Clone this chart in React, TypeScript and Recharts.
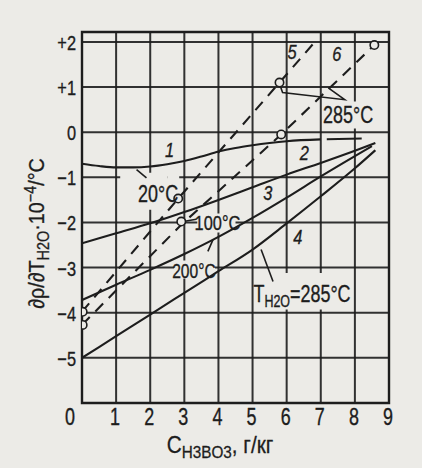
import React from "react";
import {
  ComposedChart,
  Line,
  Scatter,
  XAxis,
  YAxis,
  CartesianGrid,
  ReferenceArea,
  ReferenceDot,
} from "recharts";

const FONT = "'Liberation Sans', Arial, sans-serif";
const INK = "#1d1d1d";
const PAPER = "#ecebe7";
const NARROW = 0.78;

// axes
const xTicks = [0, 1, 2, 3, 4, 5, 6, 7, 8, 9];
const yTicks = [-5, -4, -3, -2, -1, 0, 1, 2];
const yTickLabels = ["−5", "−4", "−3", "−2", "−1", "0", "+1", "+2"];
const xDomain = [0, 9];
const yDomain = [-6, 2.22];

// solid curves: [C (g/kg), dρ/dT ·10^-4]
const curve1 = [[0, -0.7], [0.5, -0.75], [1, -0.78], [1.5, -0.78], [2, -0.76], [2.5, -0.71], [3, -0.64], [3.5, -0.54], [4, -0.43], [4.5, -0.35], [5, -0.29], [5.5, -0.24], [6, -0.2], [7.0, -0.16]];
const curve1Ext = [[7.0, -0.16], [8.2, -0.14]];
const curve2 = [[0, -2.46], [1, -2.24], [2, -2.02], [3, -1.77], [4, -1.5], [5, -1.22], [6, -0.94], [7, -0.68], [8, -0.41], [8.6, -0.24]];
const curve3 = [[0, -3.72], [1, -3.38], [2, -3.05], [3, -2.7], [4, -2.32], [5, -1.9], [6, -1.45], [7, -0.98], [8, -0.53], [8.5, -0.31]];
const curve4 = [[0, -5.0], [1, -4.52], [2, -4.04], [3, -3.56], [4, -3.08], [5, -2.6], [6, -2.02], [7, -1.42], [8, -0.8], [8.6, -0.4]];
// dashed lines
const line5 = [[0, -3.98], [2.82, -1.47], [5.79, 1.1], [6.85, 2.02]];
const line6 = [[0, -4.27], [2.91, -2.05], [5.84, -0.05], [8.57, 1.93]];
// open circles (measured points)
const points = [[0.02, -3.98], [0.02, -4.27], [2.82, -1.47], [2.91, -1.98], [5.84, -0.05], [5.79, 1.1], [8.57, 1.93]];

// leader lines
const leader20 = [[1.6, -0.83], [1.89, -1.01]];
const leader100 = [[2.97, -1.98], [3.35, -1.93]];
const leader200 = [[3.69, -2.64], [3.84, -2.38]];
const leader285 = [[5.25, -2.6], [5.6, -3.31]];
const leaderTop = [[5.8, 1.05], [5.88, 0.88], [7.7, 0.72], [7.22, 0.98]];

// paper-coloured gaps in the grid behind labels: [x1, x2, y1, y2]
const masks = [
  [1.12, 2.5, -1.72, -0.9],
  [2.5, 2.85, -1.08, -0.92],
  [3.38, 4.5, -2.22, -1.8],
  [2.7, 3.9, -3.24, -2.84],
  [5.12, 7.9, -3.93, -3.12],
  [7.12, 8.55, 0.08, 0.68],
];

// curve numbers
const numLabels = ["1", "2", "3", "4", "5", "6"];
const numX = [2.57, 6.52, 5.45, 6.33, 6.16, 7.47];
const numY = [-0.4, -0.46, -1.35, -2.33, 1.77, 1.74];

// temperature labels
const tempText = ["20°C", "100°C", "200°C", "285°C"];
const tempX = [2.23, 3.97, 3.28, 7.8];
const tempY = [-1.37, -2.0, -3.05, 0.38];
const tempSize = [23, 21, 20, 23];

const toXY = (a: number[][]) => a.map(([x, y]) => ({ x, y }));

const NText = ({ x, y, size, anchor = "middle", italic = false, sx = NARROW, children }: any) => (
  <g transform={`translate(${x},${y}) scale(${sx},1)`}>
    <text
      x={0}
      y={0}
      textAnchor={anchor}
      fontSize={size}
      fontFamily={FONT}
      fontStyle={italic ? "italic" : "normal"}
      fill={INK}
      stroke={INK}
      strokeWidth={0.35}
    >
      {children}
    </text>
  </g>
);

const XTick = (p: any) => {
  const v = p.payload.value;
  return <NText x={p.x + (v === 0 ? -12 : -1)} y={p.y + 22} size={23}>{v}</NText>;
};

const YTick = (p: any) => {
  const i = yTicks.indexOf(p.payload.value);
  return <NText x={p.x} y={p.y + 8} size={21} anchor="end">{yTickLabels[i]}</NText>;
};

const YTitle = (p: any) => {
  const vb = p.viewBox || { x: 0, y: 32, width: 82, height: 371 };
  const cx = vb.x + 44;
  const cy = vb.y + vb.height / 2 + 16;
  return (
    <g transform={`translate(${cx},${cy}) rotate(-90) scale(0.9,1)`}>
      <text x={0} y={0} textAnchor="middle" fontSize={22} fontFamily={FONT} fill={INK} stroke={INK} strokeWidth={0.3}>
        ∂ρ/∂T
        <tspan dy={5} fontSize={16}>H2O</tspan>
        <tspan dy={-5}>·10</tspan>
        <tspan dy={-8} fontSize={16}>−4</tspan>
        <tspan dy={8}>/°C</tspan>
      </text>
    </g>
  );
};

const XTitle = (p: any) => {
  const vb = p.viewBox || { x: 82, y: 403, width: 307, height: 30 };
  const cx = vb.x + 138;
  const cy = vb.y + 50;
  return (
    <g transform={`translate(${cx},${cy}) scale(0.9,1)`}>
      <text x={0} y={0} textAnchor="middle" fontSize={23} fontFamily={FONT} fill={INK} stroke={INK} strokeWidth={0.3}>
        C
        <tspan dy={5} fontSize={17}>H3BO3</tspan>
        <tspan dy={-5}>, г/кг</tspan>
      </text>
    </g>
  );
};

const Circle = (p: any) => (
  <circle cx={p.cx} cy={p.cy} r={4.2} fill={PAPER} stroke={INK} strokeWidth={1.6} />
);

const line = (key: string, data: number[][], dashed?: string, type: any = "monotone", w = 2.1) => (
  <Line
    key={key}
    data={toXY(data)}
    dataKey="y"
    type={type}
    stroke={INK}
    strokeWidth={w}
    strokeDasharray={dashed}
    dot={false}
    activeDot={false}
    isAnimationActive={false}
    legendType="none"
  />
);

export default function App() {
  return (
    <div style={{ position: "absolute", left: 0, top: 0, width: 422, height: 468, background: PAPER }}>
      <ComposedChart width={422} height={468} margin={{ top: 32, right: 33, bottom: 35, left: 0 }}>
        <CartesianGrid stroke={INK} strokeWidth={2} strokeOpacity={0.9} />
        <XAxis
          type="number"
          dataKey="x"
          domain={xDomain}
          ticks={xTicks}
          allowDataOverflow
          axisLine={false}
          tickLine={false}
          tickSize={0}
          tickMargin={0}
          height={30}
          tick={<XTick />}
          label={{ content: (p: any) => <XTitle {...p} /> }}
        />
        <YAxis
          type="number"
          dataKey="y"
          domain={yDomain}
          ticks={yTicks}
          allowDataOverflow
          axisLine={false}
          tickLine={false}
          tickSize={0}
          tickMargin={6}
          width={82}
          tick={<YTick />}
          label={{ content: (p: any) => <YTitle {...p} /> }}
        />
        {masks.map(([x1, x2, y1, y2], i) => (
          <ReferenceArea key={"m" + i} x1={x1} x2={x2} y1={y1} y2={y2} fill={PAPER} fillOpacity={1} stroke="none" />
        ))}
        <ReferenceArea x1={xDomain[0]} x2={xDomain[1]} y1={yDomain[0]} y2={yDomain[1]} fill="none" stroke={INK} strokeWidth={2.4} />
        {line("c1", curve1)}
        {line("c1e", curve1Ext, "0 6 60", "linear")}
        {line("c2", curve2)}
        {line("c3", curve3)}
        {line("c4", curve4)}
        {line("l5", line5, "11 8", "linear")}
        {line("l6", line6, "11 8", "linear")}
        {line("ld20", leader20, undefined, "linear", 1.6)}
        {line("ld100", leader100, undefined, "linear", 1.6)}
        {line("ld200", leader200, undefined, "linear", 1.6)}
        {line("ld285", leader285, undefined, "linear", 1.6)}
        {line("ldTop", leaderTop, undefined, "linear", 1.6)}
        <Scatter data={toXY(points)} dataKey="y" shape={<Circle />} isAnimationActive={false} legendType="none" />
        {numLabels.map((t, i) => (
          <ReferenceDot
            key={"n" + i}
            x={numX[i]}
            y={numY[i]}
            r={0}
            shape={(p: any) => <NText x={p.cx} y={p.cy + 7} size={21} italic>{t}</NText>}
          />
        ))}
        {tempText.map((t, i) => (
          <ReferenceDot
            key={"t" + i}
            x={tempX[i]}
            y={tempY[i]}
            r={0}
            shape={(p: any) => <NText x={p.cx} y={p.cy + 8} size={tempSize[i]}>{t}</NText>}
          />
        ))}
        <ReferenceDot
          x={6.45}
          y={-3.62}
          r={0}
          shape={(p: any) => (
            <NText x={p.cx} y={p.cy + 6} size={23}>
              T<tspan dy={5} fontSize={16}>H2O</tspan>
              <tspan dy={-5}>=285°C</tspan>
            </NText>
          )}
        />
      </ComposedChart>
    </div>
  );
}
